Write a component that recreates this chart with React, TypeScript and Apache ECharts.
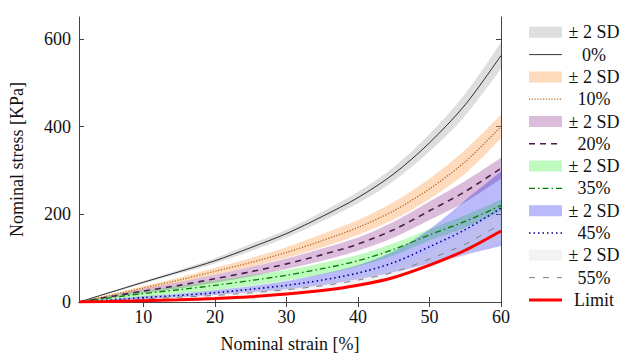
import React, { useEffect, useRef } from "react";
import * as echarts from "echarts";

const strain = [1, 5, 10, 15, 20, 25, 30, 35, 40, 45, 50, 55, 60];

const mean0 = [0, 20, 45, 69, 94, 124, 156, 195, 238, 292, 363, 450, 562];
const mean10 = [0, 14, 32, 50, 70, 90, 113, 140, 170, 208, 258, 320, 400];
const mean20 = [0, 11, 25, 38, 53, 69, 87, 108, 132, 165, 208, 252, 305];
const mean35 = [0, 9, 19, 28, 38, 49, 61, 76, 94, 120, 153, 184, 220];
const mean45 = [0, 4, 10, 15, 21, 29, 38, 50, 66, 90, 126, 165, 214];
const mean55 = [0, 3, 7, 11, 15, 21, 28, 37, 50, 68, 98, 132, 178];
const limit = [0, 1, 3, 5, 8, 12, 18, 26, 38, 56, 84, 118, 162];

const sd0lo = [0, 18, 42, 65, 88, 116, 147, 184, 225, 276, 343, 425, 532];
const sd0hi = [0, 22, 48, 73, 100, 132, 165, 206, 251, 308, 383, 475, 592];
const sd10lo = [0, 12, 28, 44, 62, 80, 101, 125, 153, 188, 235, 293, 373];
const sd10hi = [0, 16, 36, 56, 78, 100, 125, 155, 187, 228, 281, 347, 427];
const sd20lo = [0, 9, 20, 31, 44, 58, 75, 94, 117, 147, 187, 228, 281];
const sd20hi = [0, 13, 30, 45, 62, 80, 99, 122, 147, 183, 229, 276, 329];
const sd35lo = [0, 5, 12, 19, 27, 37, 49, 63, 81, 106, 140, 170, 207];
const sd35hi = [0, 13, 26, 37, 49, 61, 73, 89, 107, 134, 166, 198, 233];
const sd45lo = [0, 2, 7, 11, 16, 22, 29, 38, 52, 68, 88, 108, 128];
const sd45hi = [0, 6, 13, 19, 27, 36, 48, 64, 84, 116, 166, 232, 298];
const sd55lo = [0, 2, 5, 8, 12, 16, 22, 30, 41, 56, 78, 106, 140];
const sd55hi = [0, 4, 9, 14, 19, 26, 34, 45, 60, 81, 115, 155, 205];

const xTicks = [10, 20, 30, 40, 50, 60];
const yTicks = [0, 200, 400, 600];

const legendLabels = ["0%", "10%", "20%", "35%", "45%", "55%"];
const sdLabel = "± 2 SD";
const limitLabel = "Limit";
const xName = "Nominal strain [%]";
const yName = "Nominal stress [KPa]";

const FONT = "Liberation Serif";

const groups = [
  { mean: mean0, lo: sd0lo, hi: sd0hi, band: "rgba(190,190,190,0.5)", line: { color: "#000000", width: 0.8, type: "solid" as any } },
  { mean: mean10, lo: sd10lo, hi: sd10hi, band: "rgba(250,160,80,0.38)", line: { color: "#b5651d", width: 1.3, type: [1.2, 1.6] as any } },
  { mean: mean20, lo: sd20lo, hi: sd20hi, band: "rgba(160,80,160,0.38)", line: { color: "#4b1d4b", width: 1.6, type: [6, 5] as any } },
  { mean: mean35, lo: sd35lo, hi: sd35hi, band: "rgba(0,235,0,0.25)", line: { color: "#008000", width: 1.3, type: [6, 3, 1.5, 3] as any } },
  { mean: mean45, lo: sd45lo, hi: sd45hi, band: "rgba(0,0,235,0.27)", line: { color: "#00008b", width: 1.6, type: [1.5, 3] as any } },
  { mean: mean55, lo: sd55lo, hi: sd55hi, band: "rgba(200,200,200,0.22)", line: { color: "#808080", width: 1, type: [6, 8] as any } },
];

function smoothSegs(p: number[][]): string {
  let d = "";
  const t = 1 / 6;
  for (let i = 0; i < p.length - 1; i++) {
    const p0 = p[i - 1] || p[i];
    const p1 = p[i];
    const p2 = p[i + 1];
    const p3 = p[i + 2] || p[i + 1];
    const c1x = p1[0] + (p2[0] - p0[0]) * t;
    const c1y = p1[1] + (p2[1] - p0[1]) * t;
    const c2x = p2[0] - (p3[0] - p1[0]) * t;
    const c2y = p2[1] - (p3[1] - p1[1]) * t;
    d += ` C${c1x.toFixed(2)},${c1y.toFixed(2)} ${c2x.toFixed(2)},${c2y.toFixed(2)} ${p2[0].toFixed(2)},${p2[1].toFixed(2)}`;
  }
  return d;
}

export default function App() {
  const ref = useRef<HTMLDivElement>(null);
  useEffect(() => {
    if (!ref.current) return;
    const chart = echarts.init(ref.current, null, { renderer: "svg" });
    const pts = (arr: number[]) => strain.map((x, i) => [x, arr[i]]);
    const series: any[] = [];
    groups.forEach((g) => {
      const lo = g.lo;
      const hi = g.hi;
      series.push({
        type: "custom",
        silent: true,
        data: strain.map((x, i) => [x, lo[i], hi[i]]),
        encode: { x: 0, y: [1, 2] },
        renderItem: (params: any, api: any) => {
          if (params.dataIndex !== 0) return null;
          const up = strain.map((x, j) => api.coord([x, hi[j]]));
          const dn = strain.map((x, j) => api.coord([x, lo[j]])).reverse();
          let d = `M${up[0][0]},${up[0][1]}` + smoothSegs(up);
          d += ` L${dn[0][0]},${dn[0][1]}` + smoothSegs(dn) + " Z";
          return {
            type: "path",
            shape: { pathData: d },
            style: { fill: g.band, stroke: null },
          };
        },
      });
      series.push({
        type: "line",
        data: pts(g.mean),
        smooth: 0.3,
        symbol: "none",
        silent: true,
        lineStyle: { color: g.line.color, width: g.line.width, type: g.line.type },
      });
    });
    series.push({
      type: "line",
      data: pts(limit),
      smooth: 0.3,
      symbol: "none",
      silent: true,
      lineStyle: { color: "#ff0000", width: 3 },
    });

    const rowY0 = 32.3;
    const rowH = 22.3;
    const sx = 529;
    const sw = 33;
    const tx = 594;
    const graphic: any[] = [];
    const txt = (y: number, text: string) => ({
      type: "text", x: tx, y,
      style: { text, fontFamily: FONT, fontSize: 18, fill: "#111", align: "center", verticalAlign: "middle" },
    });
    let row = 0;
    groups.forEach((g, k) => {
      const y1 = rowY0 + rowH * row;
      graphic.push({ type: "rect", shape: { x: sx, y: y1 - 5.5, width: sw, height: 11 }, style: { fill: g.band } });
      graphic.push(txt(y1, sdLabel));
      row++;
      const y2 = rowY0 + rowH * row;
      graphic.push({ type: "line", shape: { x1: sx, y1: y2, x2: sx + sw, y2: y2 }, style: { stroke: g.line.color, lineWidth: g.line.width, lineDash: g.line.type === "solid" ? null : g.line.type } });
      graphic.push(txt(y2, legendLabels[k]));
      row++;
    });
    const yl = rowY0 + rowH * row;
    graphic.push({ type: "line", shape: { x1: sx, y1: yl, x2: sx + sw, y2: yl }, style: { stroke: "#ff0000", lineWidth: 3 } });
    graphic.push(txt(yl, limitLabel));

    const axisLine = { show: true, lineStyle: { color: "#444", width: 1 } };
    chart.setOption({
      animation: false,
      textStyle: { fontFamily: FONT },
      grid: { left: 75, right: 121, top: 17, bottom: 47 },
      xAxis: [
        {
          type: "value", min: 1, max: 60, position: "bottom",
          name: xName, nameLocation: "middle", nameGap: 33,
          nameTextStyle: { fontFamily: FONT, fontSize: 18, color: "#111" },
          axisLine,
          axisTick: { show: true, inside: true, length: 5, customValues: xTicks, lineStyle: { color: "#444" } },
          axisLabel: { customValues: xTicks, fontFamily: FONT, fontSize: 18, color: "#111", margin: 6 },
          splitLine: { show: false },
        },
        {
          type: "value", min: 1, max: 60, position: "top",
          axisLine,
          axisTick: { show: true, inside: true, length: 5, customValues: xTicks, lineStyle: { color: "#444" } },
          axisLabel: { show: false },
          splitLine: { show: false },
        },
      ],
      yAxis: [
        {
          type: "value", min: 0, max: 650, position: "left",
          name: yName, nameLocation: "middle", nameGap: 53, nameRotate: 90,
          nameTextStyle: { fontFamily: FONT, fontSize: 18, color: "#111" },
          axisLine,
          axisTick: { show: true, inside: true, length: 5, customValues: yTicks, lineStyle: { color: "#444" } },
          axisLabel: { customValues: yTicks, fontFamily: FONT, fontSize: 18, color: "#111", margin: 8 },
          splitLine: { show: false },
        },
        {
          type: "value", min: 0, max: 650, position: "right",
          axisLine,
          axisTick: { show: true, inside: true, length: 5, customValues: yTicks, lineStyle: { color: "#444" } },
          axisLabel: { show: false },
          splitLine: { show: false },
        },
      ],
      series,
      graphic,
    });
    return () => chart.dispose();
  }, []);
  return <div ref={ref} style={{ width: 622, height: 358, position: "absolute", left: 0, top: 0 }} />;
}
